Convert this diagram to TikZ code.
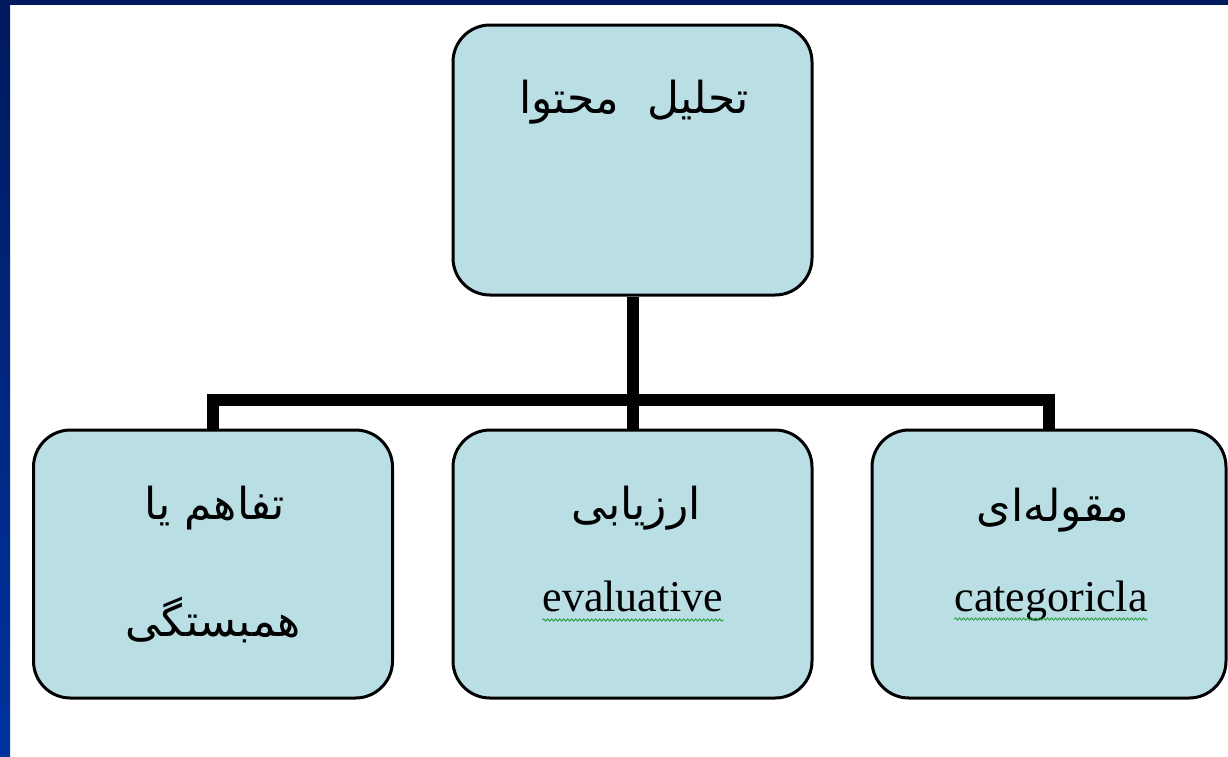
\documentclass[tikz,border=0pt]{standalone}
\usepackage{fontspec}
\setmainfont{Liberation Serif}
\newfontfamily\arabicfont[Script=Arabic]{DejaVu Sans}
\TeXXeTstate=1
\usetikzlibrary{decorations.pathmorphing}
\definecolor{boxfill}{RGB}{185,222,227}
\definecolor{navytop}{RGB}{0,26,94}
\definecolor{navybot}{RGB}{0,51,160}
\definecolor{spellgreen}{RGB}{40,160,60}
\tikzset{
  chartbox/.style={draw=black, fill=boxfill, line width=3pt, rounded corners=37pt,
    minimum width=359pt, inner sep=0pt},
  conn/.style={draw=black, line width=12pt, line join=miter},
  fatxt/.style={font=\arabicfont\fontsize{44}{50}\selectfont, inner sep=0pt},
  entxt/.style={font=\fontsize{44}{50}\selectfont, inner sep=0pt, anchor=base},
  wavy/.style={draw=spellgreen, line width=0.9pt,
    decorate, decoration={snake, amplitude=1.1pt, segment length=4pt}}
}
\begin{document}
\begin{tikzpicture}[x=1pt,y=-1pt]
\useasboundingbox (0,0) rectangle (1228,756);
\clip (0,0) rectangle (1228,756);
\fill[white] (0,0) rectangle (1228,756);
% blue frame
\shade[top color=navytop, bottom color=navybot] (0,0) rectangle (10,756);
\fill[navytop] (0,0) rectangle (1228,5);
% boxes
\node[chartbox, minimum height=270pt] (top) at (632.5,160) {};
\node[chartbox, minimum height=268pt] (left) at (213,564) {};
\node[chartbox, minimum height=268pt] (mid) at (632.5,564) {};
\node[chartbox, minimum width=354pt, minimum height=268pt] (right) at (1049,564) {};
% connectors
\coordinate (bus) at (632.5,400);
\draw[conn] (top.south) -- (bus);
\draw[conn] (left.north) |- (bus) -| (right.north);
\draw[conn] (bus) -- (mid.north);
% texts
\node[fatxt] (t0) at (634,102) {\beginR تحلیل\ \ محتوا\endR};
\node[fatxt] (t1) at (215,508) {\beginR تفاهم یا\endR};
\node[fatxt] (t2) at (213,620) {\beginR همبستگی\endR};
\node[fatxt] (t3) at (636,508) {\beginR ارزیابی\endR};
\node[entxt] (t4) at (633,611) {evaluative};
\node[fatxt] (t5) at (1053,510) {\beginR مقوله^^^^200cای\endR};
\node[entxt] (t6) at (1051,611) {categoricla};
\draw[wavy] ([yshift=-9pt]t4.base west) -- ([yshift=-9pt]t4.base east);
\draw[wavy] ([yshift=-8pt]t6.base west) -- ([yshift=-8pt]t6.base east);
\end{tikzpicture}
\end{document}
